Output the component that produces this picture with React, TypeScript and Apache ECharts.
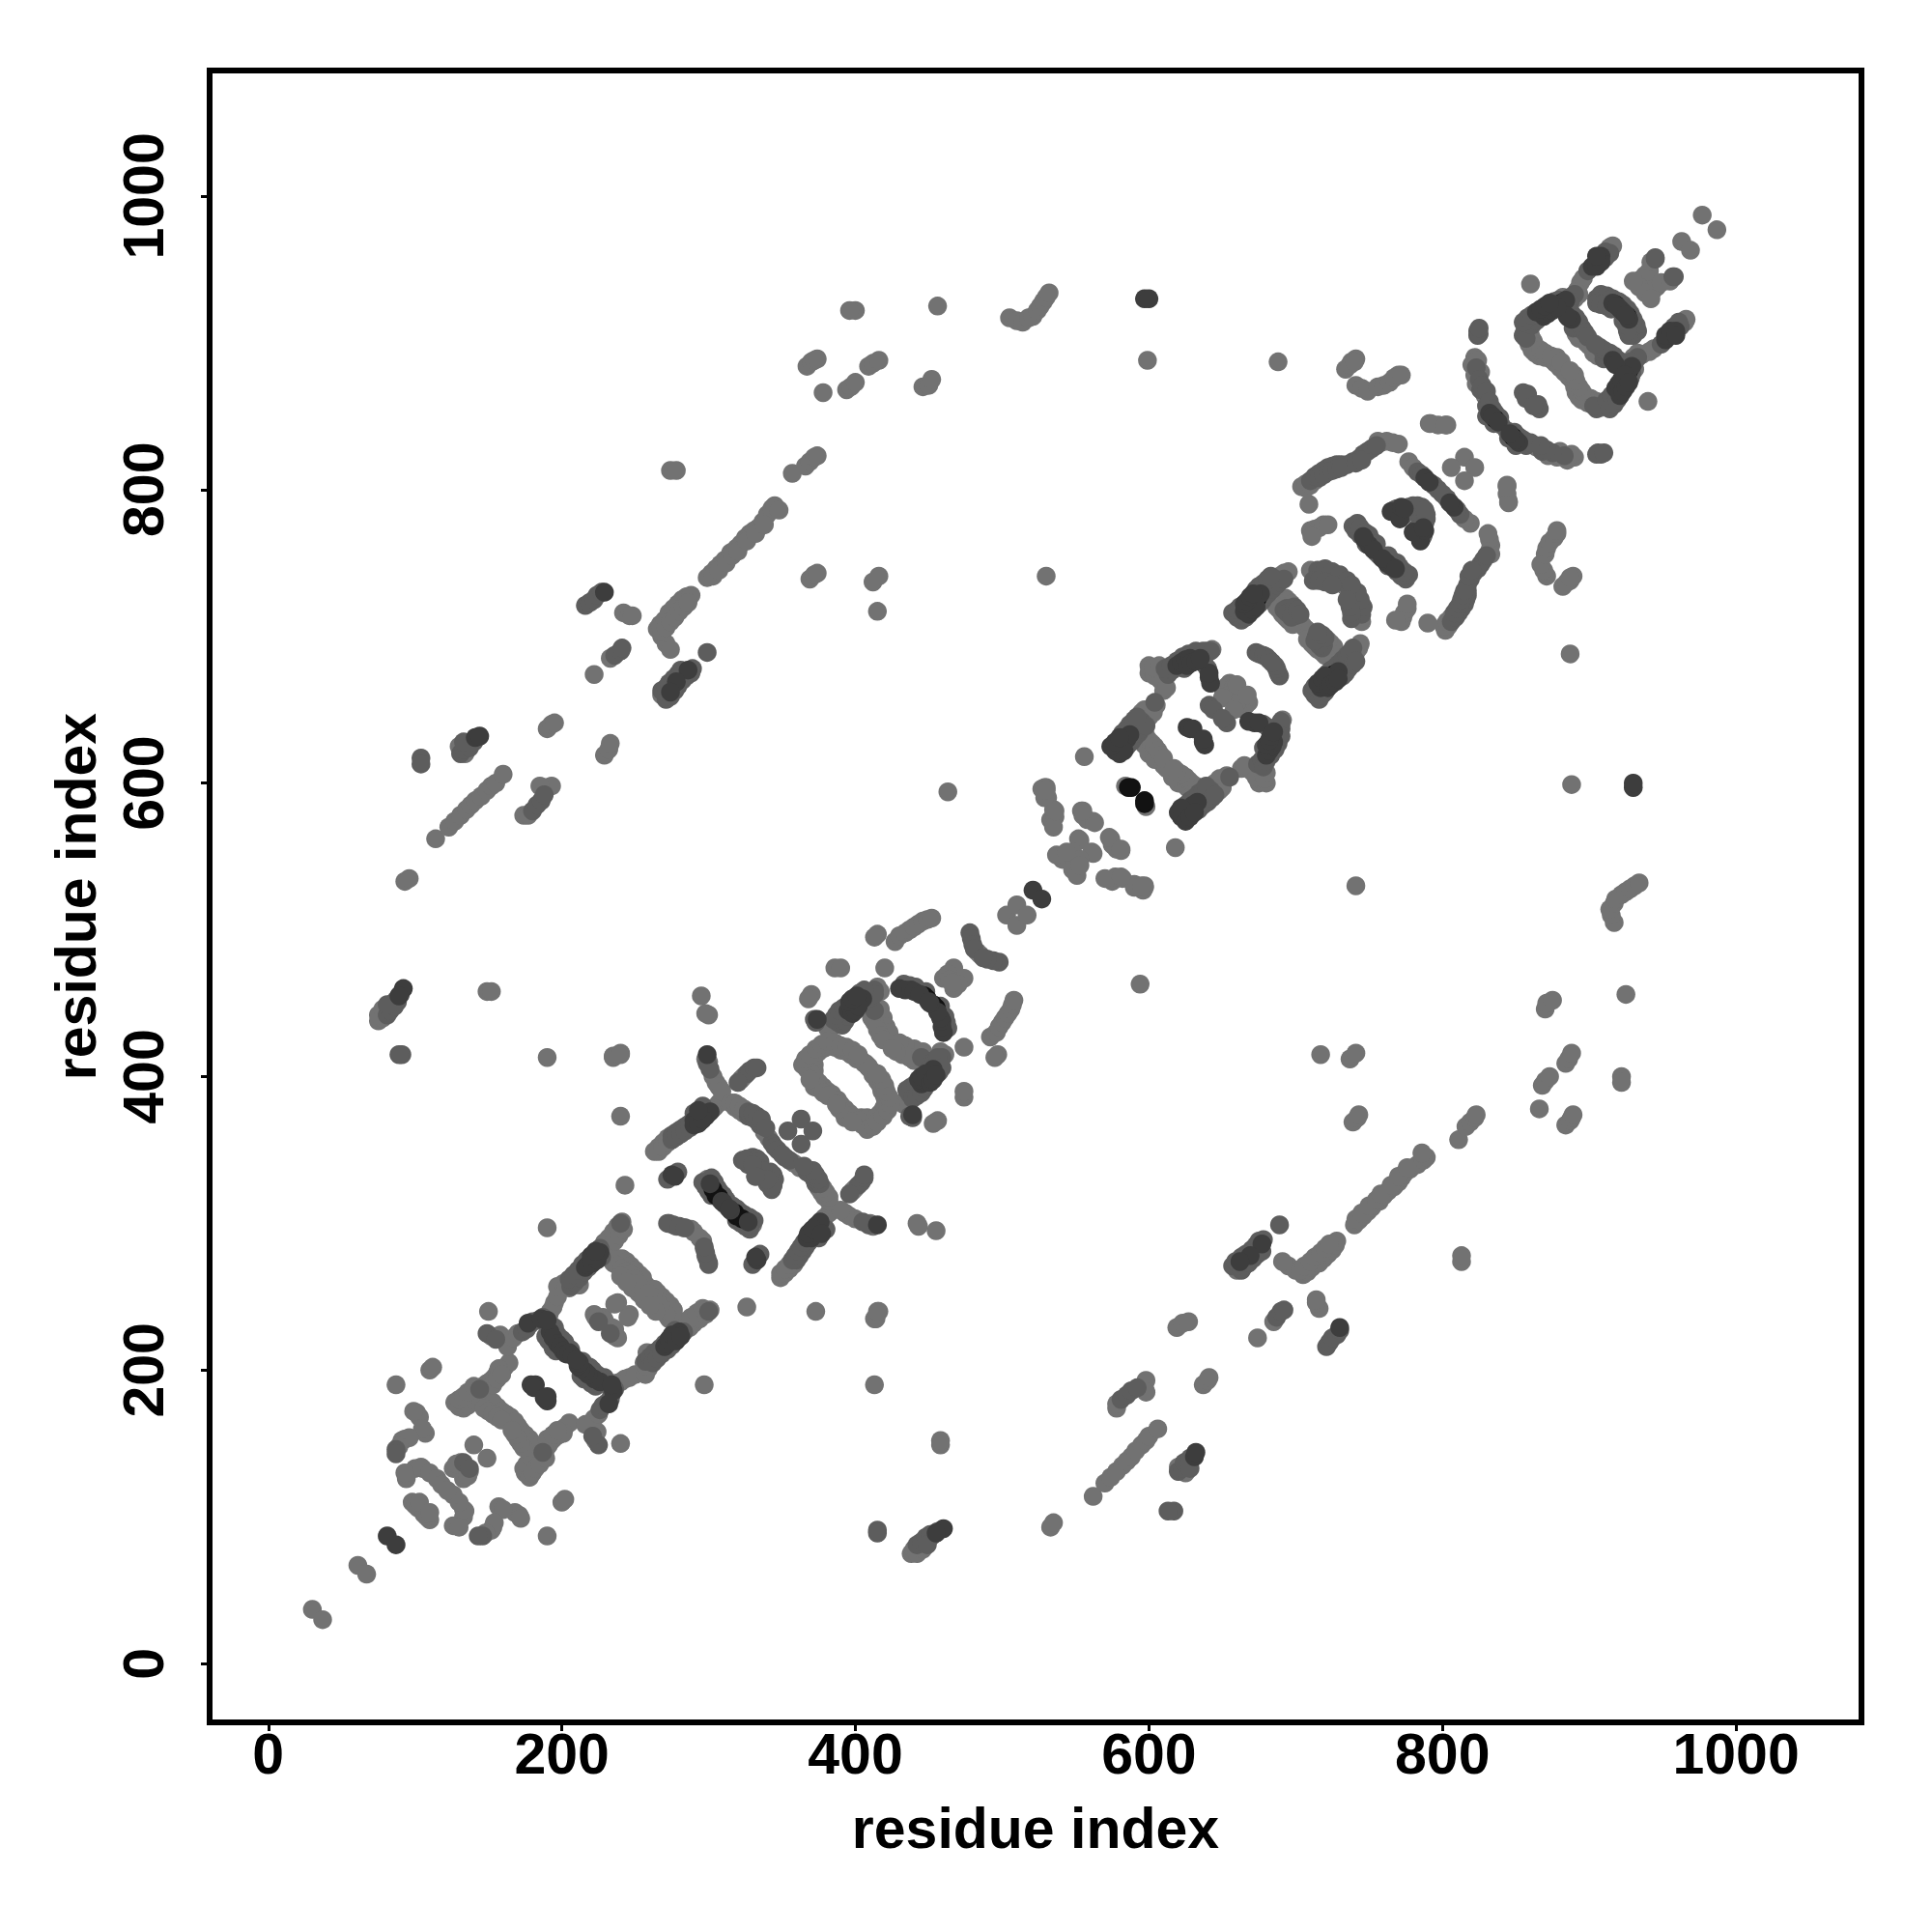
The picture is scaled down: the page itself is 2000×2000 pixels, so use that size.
import React, { useEffect, useRef } from "react";
import * as echarts from "echarts";

const tickValues = [0, 200, 400, 600, 800, 1000];
const axisTitle = "residue index";

// Contact pairs [residue a, residue b], a < b. The map is symmetric, so each is drawn at (a,b) and (b,a).
const lightPairs: number[][] = [
  [30,37],[61,67],[87,190],[110,200],[112,202],[101,171],[103,168],[99,172],[107,157],[105,160],[91,152],[93,153],[96,154],[89,148],
  [100,133],[104,134],[94,126],[93,130],[105,133],[110,130],[115,126],[118,122],[98,110],[100,108],[102,106],[103,110],[140,149],[131,137],[126,133],[128,136],
  [130,175],[132,177],[135,179],[137,182],[139,184],[141,186],[146,189],[149,191],[152,193],[154,195],[156,198],[159,200],[161,202],[164,205],[157,201],
  [150,176],[152,175],[155,173],[158,171],[160,169],[162,167],[153,178],[150,240],[152,223],[158,224],[163,216],[167,222],[170,225],
  [191,236],[192,240],[194,243],[195,246],[197,250],[197,257],[201,259],[205,256],[208,258],[212,258],
  [222,238],[228,236],[229,234],[223,236],[238,246],[236,245],[203,257],[206,260],[209,263],[212,266],[228,284],[231,287],[234,291],[237,295],[240,299],[241,301],
  [238,276],[241,273],[244,271],[247,268],[250,265],[252,262],[255,260],[257,258],[248,256],[252,253],[243,264],[246,262],[250,256],
  [190,297],[243,326],[240,373],[288,296],[290,294],[283,297],[278,298],[299,330],[300,329],[311,313],[316,309],
  [235,414],[240,416],[235,413],[240,415],[263,349],[266,352],[269,355],[272,358],[304,379],[307,382],[298,412],[300,410],[303,400],[305,396],[307,393],[309,390],[322,398],[324,400],
  [295,455],[298,443],[300,442],[315,382],[318,379],[321,377],[324,375],[338,362],[341,358],[370,456],[368,453],[386,474],[390,474],[420,474],
  [367,405],[368,408],[370,412],[374,416],[378,419],[382,421],[386,420],[390,418],[394,417],[397,415],[400,414],[404,411],[407,409],
  [372,400],[372,404],[372,408],[372,414],[375,417],[380,420],[387,420],[392,418],[396,416],[401,412],[406,409],[375,396],[378,393],[381,390],[384,388],[368,405],[370,402],
  [381,433],[383,433],[415,461],[417,458],[414,447],[416,442],[418,436],[420,430],[422,427],[425,424],[415,497],[413,495],[427,492],[430,496],[434,498],[437,500],[440,502],[443,504],[446,506],[449,507],[452,508],
  [467,474],[460,467],[463,470],[464,466],[483,485],[503,510],[510,517],[556,618],[527,596],[530,597],[533,575],[535,582],[531,590],[529,597],[529,590],[530,595],[536,577],[535,570],[536,581],
  [554,581],[555,578],[562,574],[558,575],[552,562],[553,561],[563,573],[555,581],[546,551],[541,548],[537,551],[548,553],[544,553],
  [602,650],[605,653],[600,647],[597,644],[600,675],[603,675],[607,676],[610,674],[643,691],[640,690],[604,673],[607,675],[610,663],[600,680],[608,670],[603,678],[612,665],
  [595,629],[597,626],[599,624],[601,622],[603,620],[605,618],[607,616],[609,614],[611,612],[600,620],[604,616],[606,622],[610,612],
  [655,668],[651,662],[653,666],[658,666],[655,660],[660,667],[650,658],[689,741],[692,743],[695,744],[690,723],[692,721],[702,712],[704,708],[705,707],
  [710,772],[713,773],[716,774],[719,776],[722,776],[711,768],[709,790],[710,745],[714,741],[718,743],[733,735],[704,802],[707,804],[756,833],[758,832],[762,833],[766,832],[770,831],[777,819],[780,815],
  [815,822],[806,815],[792,845],[797,844],[803,844],[845,791],[844,802],[822,890],[820,885],[822,878],[823,872],[826,880],[829,864],[824,888],[860,940],
  [856,908],[858,911],[892,936],[894,941],[896,944],[914,965],[916,966],[863,893],[866,891],[870,890],[875,888],[877,886],[880,883],[859,899],[861,895],
  [894,906],[896,903],[898,900],[893,903],[891,906],[932,941],[938,946],[935,943],[940,945],[934,938],[941,949],[942,955],[930,942],[963,969],[977,987],
  [75,438],[77,440],[78,443],[80,445],[82,444],[149,458],[152,458],[190,413],[93,533],[96,535],[114,562],[123,570],[127,574],[131,578],[135,582],[138,585],[141,588],[145,591],[149,595],[152,598],[155,600],[160,606],
  [174,578],[177,578],[187,597],[190,597],[193,598],[185,598],[190,637],[193,640],[195,641],[229,619],[232,623],[233,627],[222,674],[233,685],[242,716],[246,714],[248,714],
  [265,705],[267,708],[270,711],[273,716],[276,719],[279,722],[282,725],[285,727],[288,728],[299,740],[302,743],[305,746],[308,749],[311,752],[315,757],[319,760],[322,763],[325,767],[328,770],[331,772],[334,774],[337,778],[340,783],[343,787],[345,789],[348,786],
  [268,700],[271,695],[274,691],[271,660],[268,660],[274,813],[278,813],[357,811],[366,816],[369,819],[372,822],[374,823],[367,884],[370,887],[372,888],[374,889],[378,866],[369,739],[372,742],[374,743],[412,737],[416,741],[415,717],
  [394,868],[397,870],[400,873],[409,884],[412,886],[416,888],[400,922],[396,922],[446,870],[450,871],[452,875],[456,925],[505,917],[510,915],[514,914],[518,917],[521,918],[524,922],[526,925],[528,928],[530,931],[532,934],
  [599,888],[688,887],[530,741],[463,594],[741,871],[745,869],[749,867],[756,870],[760,871],[764,873],[767,876],[770,878],[772,878],[738,887],[741,889],[734,882],[737,885],[740,887],[584,598],
];
const lightRows: number[][] = [
  [133,174],[136,176],[139,180],[142,183],[146,186],[150,188],[153,190],[156,194],[159,197],[127,178],[130,180],[133,182],[136,185],[140,189],
  [153,177],[156,175],[159,172],[162,170],[165,168],[147,174],[150,172],[153,170],[156,168],[159,166],
  [229,287],[232,290],[235,294],[238,298],[230,281],[233,284],[236,288],[239,292],[242,296],
  [241,276],[244,274],[247,271],[250,268],[253,265],[255,263],[235,273],[238,271],[241,269],[244,267],[247,265],[250,262],[252,259],[240,264],[244,260],
  [266,349],[269,352],[272,355],[302,377],[299,374],
  [364,408],[366,412],[369,415],[373,419],[377,422],[381,424],[386,423],[390,421],[394,420],[398,418],[402,415],
  [372,393],[375,392],[378,389],[381,387],[369,398],
  [318,382],[321,380],[324,378],
  [417,446],[419,440],[421,434],[423,430],[411,440],[413,437],[415,432],[417,428],[419,425],
  [598,632],[600,629],[602,627],[604,625],[606,622],[608,619],[610,617],
  [693,726],[695,724],[697,722],[687,720],[689,718],[691,715],[693,713],[695,711],[698,708],
  [603,679],[607,680],[611,678],[600,645],[603,648],[595,648],[597,650],
  [268,703],[271,706],[274,710],[277,713],[280,717],[283,720],[286,723],[303,741],[307,745],[312,750],[316,755],[320,758],[326,765],[332,770],[338,776],
  [78,440],[75,442],[78,446],[134,620],[130,625],[707,801],[710,803],[713,806],[890,930],[893,933],[882,931],
  [860,905],[862,901],[864,897],[867,895],[870,893],[874,891],[878,890],[881,887],
];
const midPairs: number[][] = [
  [87,146],[87,143],[133,137],[149,225],[155,221],[173,226],[176,228],[178,231],[180,233],[184,234],[187,236],[240,300],[144,187],
  [208,262],[210,264],[212,267],[215,270],[218,273],[225,233],[225,280],[273,300],[276,299],[272,300],[280,298],[284,297],[279,335],[272,330],[302,324],[304,321],
  [308,316],[275,360],[278,362],[281,364],[284,366],[287,368],[299,409],[301,405],[326,402],[328,404],[331,406],[333,406],[320,396],
  [327,373],[330,372],[333,370],[335,367],[343,355],[345,352],[347,350],[323,343],[326,344],[330,345],[333,344],[327,340],[335,342],[336,337],[325,343],[330,340],[332,332],
  [363,371],[354,363],[373,437],[372,439],[388,437],[390,440],[392,443],[408,455],[410,457],[413,459],[413,445],[478,498],[479,494],[480,490],[481,487],
  [590,636],[592,639],[595,642],[613,674],[616,677],[631,686],[634,688],[637,690],[640,678],[638,681],[642,690],[624,678],[604,655],[641,653],[644,650],[673,689],[675,688],[678,687],[680,686],[682,684],
  [660,713],[663,715],[678,731],[681,734],[684,737],[686,739],[694,719],[696,717],[698,716],[700,714],[692,718],[694,716],[697,713],[720,742],[724,741],[727,740],[730,739],[732,737],
  [710,806],[713,809],[716,811],[719,813],[722,815],[725,816],[728,817],[731,817],[735,817],[739,819],[743,821],[746,824],[749,826],[752,828],[755,830],[739,775],[741,772],[744,769],[748,763],[755,757],
  [783,812],[786,810],[794,803],[797,800],[767,786],[769,787],[778,785],[773,782],[777,788],[780,789],[783,789],[786,788],[826,868],[830,857],[830,850],[835,845],[840,844],[824,908],[824,905],[906,825],[910,825],
  [855,905],[860,914],[863,917],[866,919],[887,931],[890,933],[899,949],[911,962],[857,903],[889,910],[890,913],[892,910],[886,917],[905,930],[908,929],[912,929],[907,930],[910,930],[913,929],[855,866],[858,865],[857,862],[945,957],[945,958],
  [84,447],[85,450],[87,452],[91,415],[89,415],[104,617],[104,613],[131,620],[133,623],[135,625],[138,628],[180,581],[183,585],[186,588],[188,592],[216,721],[219,723],[222,725],[224,728],[227,730],[236,687],[240,690],[241,692],[276,666],[280,672],[283,675],[289,678],[299,689],
];
const midRows: number[][] = [
  [206,257],[209,260],[212,263],[215,267],[218,270],[227,277],[205,262],[208,265],[211,268],[214,272],[217,275],[226,283],
  [275,357],[278,359],[281,361],[284,363],[287,365],[290,375],[296,380],
  [391,435],[393,438],[395,441],[404,450],[406,451],[409,452],[411,454],[413,456],[385,439],[387,442],[389,445],[392,447],[403,457],[406,459],
  [585,625],[588,628],[590,631],[593,634],[595,637],[598,639],[582,634],[585,637],[587,640],[590,643],[592,645],
  [663,711],[666,713],[675,722],[677,724],[679,727],[681,729],[684,732],[687,735],[689,737],[692,739],[657,716],[660,718],[662,720],[673,732],[675,734],[678,736],[681,739],[683,741],
  [861,912],[864,915],[866,917],[881,925],[884,926],[887,928],[855,914],[858,917],[861,919],[876,928],[879,929],[911,958],[914,961],
  [195,229],[197,224],[200,221],[202,219],[204,215],[206,214],[189,223],[191,220],[194,215],[196,213],
  [302,331],[304,328],[306,324],[308,321],[310,319],[312,316],[296,328],[298,325],[300,322],[302,319],
  [327,376],[330,375],[333,373],[336,371],[339,365],
  [699,720],[701,718],[703,715],[742,777],[744,774],[747,771],[750,769],[752,765],[755,763],
  [715,745],[720,746],[725,744],[730,742],[735,738],[712,738],[716,738],[720,737],[725,735],
  [823,883],[825,875],[827,871],[830,867],[832,860],[834,855],[836,852],[839,849],
  [888,920],[891,917],[893,914],[895,910],[897,907],[899,904],
  [908,933],[912,932],[916,930],[920,928],[923,926],[905,927],[908,926],[912,925],[915,923],
  [611,678],[615,680],[619,683],[623,686],[627,688],[632,690],
  [271,657],[274,659],[277,663],[279,666],[282,670],[285,673],[288,675],[268,663],[271,665],[273,668],[276,671],[279,674],[281,677],
  [81,442],[83,445],[86,448],[88,451],[90,456],[81,449],[137,624],[140,628],[133,628],[716,808],[719,810],[722,812],[725,813],[728,814],[731,815],[741,818],[745,820],
  [433,463],[437,462],[441,461],[445,458],[448,458],
];
const darkPairs: number[][] = [
  [81,87],[179,190],[182,190],[181,188],[177,232],[186,235],[192,226],[194,222],[197,218],[199,216],[201,213],[203,211],[205,212],[207,210],[190,234],[216,270],[218,272],[226,280],
  [275,333],[277,332],[374,439],[92,460],[89,455],[141,631],[144,632],[286,677],[278,669],[274,662],[229,730],[597,930],[600,930],[521,527],[626,638],[628,637],[630,637],[641,672],[642,668],
  [619,680],[622,682],[625,684],[628,685],[577,622],[585,630],[587,633],[641,675],[626,680],[629,682],[632,683],[635,685],[665,717],[676,729],[395,445],[397,447],[401,450],[405,453],[430,460],[434,459],[438,459],[440,458],[444,456],[451,450],
  [299,415],[301,327],[309,315],[310,314],[298,373],[295,370],[301,376],[290,370],[750,762],[747,766],[753,759],[746,768],[788,808],[791,805],[832,852],[834,850],[838,846],[765,785],[771,780],[772,788],[774,787],[872,922],[875,924],[878,926],[884,929],[908,959],[902,952],[888,916],[885,918],[921,923],[916,927],
  [869,921],[919,925],
];
const darkRows: number[][] = [
  [221,273],[224,275],[220,278],[223,281],[290,367],[293,368],[296,371],[293,377],[398,443],[400,445],[402,448],[396,451],[398,453],[401,455],
  [580,620],[583,622],[574,625],[577,628],[580,631],[668,715],[671,718],[673,720],[665,722],[667,724],[669,727],[671,729],
  [869,918],[872,920],[875,922],[878,924],[864,921],[867,923],[870,925],[873,927],[905,952],[908,955],[905,959],
];
const blackPairs: number[][] = [
  [222,276],[224,278],[220,274],[305,319],[307,318],[303,323],[399,449],[403,452],[447,455],[449,453],[580,623],[582,627],[668,720],[670,722],[672,724],[674,726],[918,926],[881,927],[905,955],[836,848],
];
const blackTopPairs: number[][] = [[586,597],[588,597]];

const bothWays = (pairs: number[][]) => pairs.flatMap(([a, b]) => [[a, b], [b, a]]);
const groups = [lightPairs.concat(lightRows), midPairs.concat(midRows), blackPairs, darkPairs.concat(darkRows), blackTopPairs];
const groupGreys = ["#727272", "#5d5d5d", "#121212", "#3d3d3d", "#121212"];

const font = "'Liberation Sans', Helvetica, Arial, sans-serif";

export default function App() {
  const ref = useRef<HTMLDivElement>(null);
  useEffect(() => {
    const chart = echarts.init(ref.current!, undefined, { renderer: "svg" });
    const axis = (rotate: number, nameGap: number, margin: number) => ({
      type: "value" as const,
      min: -40,
      max: 1085.5,
      name: axisTitle,
      nameLocation: "middle" as const,
      nameGap,
      nameTextStyle: { color: "#000", fontFamily: font, fontWeight: "bold" as const, fontSize: 59 },
      splitLine: { show: false },
      axisLine: { show: false, onZero: false },
      axisTick: { show: true, length: 9, customValues: tickValues, lineStyle: { color: "#000", width: 3 } },
      axisLabel: { show: true, customValues: tickValues, rotate, margin, color: "#000", fontFamily: font, fontWeight: "bold" as const, fontSize: 59, formatter: (v: number) => String(v) },
    });
    chart.setOption({
      animation: false,
      backgroundColor: "#fff",
      grid: { show: true, left: 217, top: 73, width: 1710, height: 1710, borderColor: "#000", borderWidth: 6, backgroundColor: "transparent" },
      xAxis: axis(0, 80, 3),
      yAxis: axis(90, 109, 39),
      series: groups.map((pairs, i) => ({
        type: "scatter",
        data: bothWays(pairs),
        symbol: "circle",
        symbolSize: 19.5,
        itemStyle: { color: groupGreys[i], opacity: 1 },
        z: 2 + i,
      })),
    });
    return () => chart.dispose();
  }, []);
  return <div ref={ref} style={{ position: "absolute", left: 0, top: 0, width: 2000, height: 2000 }} />;
}
